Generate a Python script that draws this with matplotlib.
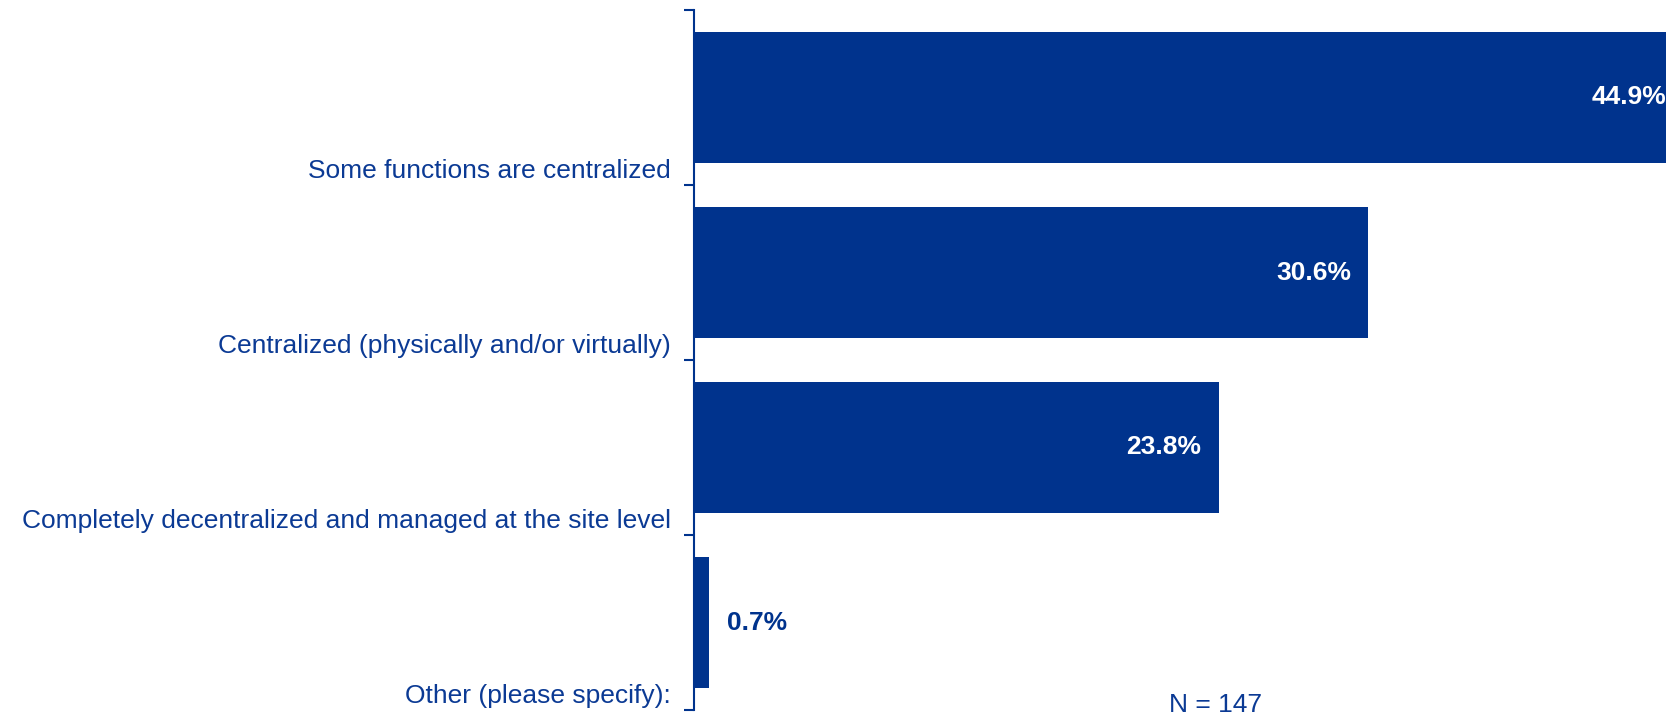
import matplotlib.pyplot as plt
import matplotlib.transforms as mtransforms

# data
categories = ["Some functions are centralized",
              "Centralized (physically and/or virtually)",
              "Completely decentralized and managed at the site level",
              "Other (please specify):"]
values = [44.9, 30.6, 23.8, 0.7]
n_label = "N = 147"

BAR_COLOR = '#00338D'
TEXT_COLOR = '#0B3A94'

plt.rcParams['font.family'] = ['Liberation Sans', 'DejaVu Sans']

fig = plt.figure(figsize=(16.66, 7.14), dpi=100)
ax = fig.add_axes([694 / 1666, 4 / 714, 972 / 1666, 700 / 714])

ypos = list(range(len(categories)))
ax.barh(ypos, values, height=0.75, color=BAR_COLOR)
ax.set_xlim(0, 972 / 22.04)
ax.set_ylim(len(categories) - 0.5, -0.5)

# spines / ticks at category boundaries
for s in ['top', 'right', 'bottom']:
    ax.spines[s].set_visible(False)
ax.spines['left'].set_color(BAR_COLOR)
ax.spines['left'].set_linewidth(1.5)
ax.set_xticks([])
ax.set_yticks([i - 0.5 for i in range(len(categories) + 1)])
ax.set_yticklabels([])
ax.tick_params(axis='y', length=7, width=1.5, color=BAR_COLOR)

# category labels sit near the lower boundary of each band
trans = mtransforms.blended_transform_factory(ax.transAxes, ax.transData)
for i, cat in enumerate(categories):
    ax.text(-23 / 972, i + 0.5 - 14 / 175, cat, transform=trans,
            ha='right', va='center', fontsize=19, color=TEXT_COLOR)

# value labels
for i, v in enumerate(values):
    if v > 5:
        ax.annotate(f"{v:.1f}%", xy=(v, i), xytext=(-12.5, 0),
                    textcoords='offset points', ha='right', va='center',
                    fontsize=19, fontweight='bold', color='white',
                    annotation_clip=False)
    else:
        ax.annotate(f"{v:.1f}%", xy=(v, i), xytext=(12.5, 0),
                    textcoords='offset points', ha='left', va='center',
                    fontsize=19, fontweight='bold', color=BAR_COLOR)

fig.text(1216 / 1666, 2 / 714, n_label, ha='center', va='baseline',
         fontsize=19, color=TEXT_COLOR)

fig.savefig('out.png', dpi=100)
